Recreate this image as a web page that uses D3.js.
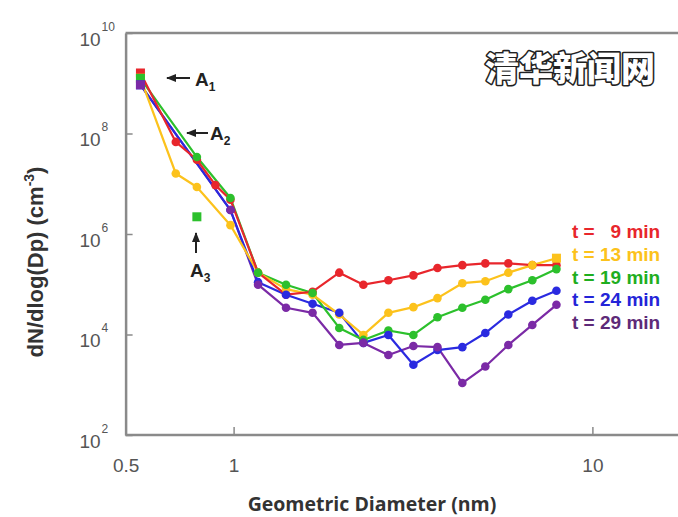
<!DOCTYPE html>
<html>
<head>
<meta charset="utf-8">
<script src="https://cdn.jsdelivr.net/npm/d3@7"></script>
<style>
  html, body { margin: 0; padding: 0; background: #fff; }
  svg { display: block; }
</style>
</head>
<body>
<svg id="chart" width="678" height="517"></svg>
<script>
// ---------- data ----------
const diameters = [0.55, 0.69, 0.79, 0.89, 0.98, 1.17, 1.40, 1.66, 1.97, 2.30, 2.70, 3.17, 3.70, 4.34, 5.03, 5.83, 6.80, 7.94];
const seriesNames = ["t =   9 min", "t = 13 min", "t = 19 min", "t = 24 min", "t = 29 min"];
const t9  = [1.6e9, 6.8e7, 3.0e7, 9.4e6, 4.8e6, 1.7e5, 6.2e4, 7.1e4, 1.7e5, 9.8e4, 1.2e5, 1.5e5, 2.1e5, 2.4e5, 2.6e5, 2.6e5, 2.4e5, 2.4e5];
const t13 = [1.26e9, 1.6e7, 8.6e6, null, 1.5e6, 1.7e5, 8.0e4, 6.2e4, 2.5e4, 9.8e3, 2.7e4, 3.5e4, 5.3e4, 1.05e5, 1.15e5, 1.7e5, 2.4e5, 3.3e5];
const t19 = [1.25e9, null, 3.4e7, null, 5.2e6, 1.7e5, 9.8e4, 6.7e4, 1.35e4, 7.8e3, 1.2e4, 9.8e3, 2.2e4, 3.4e4, 4.9e4, 8.0e4, 1.2e5, 2.0e5];
const t24 = [9.3e8, null, null, null, 3.0e6, 1.1e5, 6.2e4, 4.1e4, 2.7e4, 6.8e3, 9.8e3, 2.5e3, 4.9e3, 5.6e3, 1.07e4, 2.5e4, 4.7e4, 7.4e4];
const t29 = [9.3e8, null, null, null, 3.0e6, 9.8e4, 3.4e4, 2.7e4, 6.2e3, 6.8e3, 3.9e3, 5.9e3, 5.6e3, 1.08e3, 2.3e3, 6.2e3, 1.55e4, 3.9e4];
const a3Point = { d: 0.79, v: 2.2e6 };   // isolated green square (A3)
const xTicks = [0.5, 1, 10];
const xTickLabels = ["0.5", "1", "10"];
const yTicks = [1e2, 1e4, 1e6, 1e8, 1e10];
const yTickExps = ["2", "4", "6", "8", "10"];

// ---------- styles ----------
const colors = ["#e8262c", "#fcc21c", "#2cc02c", "#2a2ae0", "#7b2aa6"];
const textColors = ["#e8262c", "#fcc21c", "#1fae1f", "#2424d8", "#5e2a78"];
const allSeries = [t9, t13, t19, t24, t29];

const svg = d3.select("#chart");
const x = d3.scaleLog().domain([0.5, 20]).range([125.6, 700.4]);
const y = d3.scaleLog().domain([1e2, 1e10]).range([435, 33]);

svg.append("defs").append("marker")
  .attr("id", "arrow").attr("viewBox", "0 0 10 10")
  .attr("refX", 9).attr("refY", 5)
  .attr("markerWidth", 5).attr("markerHeight", 5)
  .attr("orient", "auto-start-reverse")
  .append("path").attr("d", "M0,1 L10,5 L0,9 Z").attr("fill", "#222");

// ---------- frame ----------
const frameColor = "#8a8a8a";
svg.append("line").attr("x1", x(0.5)).attr("x2", 678).attr("y1", y(1e10)).attr("y2", y(1e10))
  .attr("stroke", frameColor).attr("stroke-width", 2.5);

// x axis
const xAxis = d3.axisBottom(x).tickValues(xTicks)
  .tickSizeInner(-8).tickSizeOuter(0).tickPadding(24)
  .tickFormat((d, i) => xTickLabels[i]);
const gx = svg.append("g").attr("transform", `translate(0,${y(1e2)})`).call(xAxis);
gx.select(".domain").attr("stroke", frameColor).attr("stroke-width", 2.5)
  .attr("d", `M${x(0.5)},0H700`);
gx.selectAll(".tick line").attr("stroke", frameColor).attr("stroke-width", 1.5);
gx.selectAll(".tick text").attr("fill", "#555").attr("font-family", "Liberation Sans, Arial, sans-serif")
  .attr("font-size", 19);

// y axis
const yAxis = d3.axisLeft(y).tickValues(yTicks).tickSizeInner(-7).tickSizeOuter(0).tickFormat("");
const gy = svg.append("g").attr("transform", `translate(${x(0.5)},0)`).call(yAxis);
gy.select(".domain").attr("stroke", frameColor).attr("stroke-width", 2.5);
gy.selectAll(".tick line").attr("stroke", frameColor).attr("stroke-width", 1.5);
gy.selectAll(".tick").each(function(d, i) {
  const g = d3.select(this);
  g.append("text").attr("x", -25).attr("y", 12).attr("text-anchor", "end")
    .attr("fill", "#555").attr("font-family", "Liberation Sans, Arial, sans-serif").attr("font-size", 19)
    .text("10");
  g.append("text").attr("x", -24).attr("y", -3).attr("text-anchor", "start")
    .attr("fill", "#555").attr("font-family", "Liberation Sans, Arial, sans-serif").attr("font-size", 12)
    .text(yTickExps[i]);
});

// axis titles
svg.append("text").attr("x", 372).attr("y", 511).attr("text-anchor", "middle")
  .attr("font-family", "Open Sans, sans-serif").attr("font-weight", "bold").attr("font-size", 19.5)
  .attr("fill", "#333").text("Geometric Diameter (nm)");

const yt = svg.append("text").attr("transform", "translate(43,262) rotate(-90)")
  .attr("text-anchor", "middle").attr("font-family", "Liberation Sans, Arial, sans-serif")
  .attr("font-weight", "bold").attr("font-size", 22).attr("fill", "#333");
yt.append("tspan").text("dN/dlog(Dp) (cm");
yt.append("tspan").attr("font-size", 14).attr("dy", -9).text("-3");
yt.append("tspan").attr("dy", 9).text(")");

// ---------- series ----------
const line = d3.line().x(d => x(d.d)).y(d => y(d.v));
const seriesPts = allSeries.map(vals =>
  diameters.map((d, i) => ({ d, v: vals[i] })).filter(p => p.v != null));
const linesG = svg.append("g");
const marksG = svg.append("g");
// lines drawn from last to first so the early (red) curve stays on top where they coincide
seriesPts.slice().reverse().forEach((pts, ri) => {
  const si = seriesPts.length - 1 - ri;
  linesG.append("path").attr("d", line(pts)).attr("fill", "none")
    .attr("stroke", colors[si]).attr("stroke-width", 2.2).attr("stroke-linejoin", "round");
});
seriesPts.forEach((pts, si) => {
  pts.forEach((p, k) => {
    const isSquare = k === 0 || (si === 1 && k === pts.length - 1);
    if (isSquare) {
      marksG.append("rect").attr("x", x(p.d) - 4.5).attr("y", y(p.v) - 4.5)
        .attr("width", 9).attr("height", 9).attr("fill", colors[si]);
    } else {
      marksG.append("circle").attr("cx", x(p.d)).attr("cy", y(p.v)).attr("r", 4.3).attr("fill", colors[si]);
    }
  });
});
marksG.append("rect").attr("x", x(a3Point.d) - 4.5).attr("y", y(a3Point.v) - 4.5)
  .attr("width", 9).attr("height", 9).attr("fill", colors[2]);

// ---------- annotations ----------
function annot(x1, y1, x2, y2, tx, ty, sub, anchor) {
  svg.append("line").attr("x1", x1).attr("y1", y1).attr("x2", x2).attr("y2", y2)
    .attr("stroke", "#222").attr("stroke-width", 2).attr("marker-end", "url(#arrow)");
  const t = svg.append("text").attr("x", tx).attr("y", ty).attr("text-anchor", anchor || "start")
    .attr("font-family", "Liberation Sans, Arial, sans-serif").attr("font-weight", "bold")
    .attr("font-size", 19).attr("fill", "#222");
  t.append("tspan").text("A");
  t.append("tspan").attr("font-size", 12).attr("dy", 5).text(sub);
}
annot(190, 78, 167, 78, 195, 86, "1");
annot(208, 133, 187, 133, 210, 140, "2");
annot(196, 253, 196, 233, 190, 277, "3");

// ---------- legend ----------
seriesNames.forEach((name, i) => {
  svg.append("text").attr("x", 572).attr("y", 238 + i * 22.8)
    .attr("font-family", "Liberation Sans, Arial, sans-serif").attr("font-weight", "bold").attr("font-size", 19)
    .attr("fill", textColors[i]).style("white-space", "pre").text(name);
});

// ---------- watermark ----------
svg.append("text").attr("x", 570).attr("y", 81).attr("text-anchor", "middle")
  .attr("font-family", "Noto Sans CJK SC, sans-serif").attr("font-weight", "900").attr("font-size", 34)
  .attr("fill", "#fff").attr("stroke", "#222").attr("stroke-width", 3.2)
  .attr("paint-order", "stroke").attr("stroke-linejoin", "round").text("清华新闻网");
</script>
</body>
</html>
